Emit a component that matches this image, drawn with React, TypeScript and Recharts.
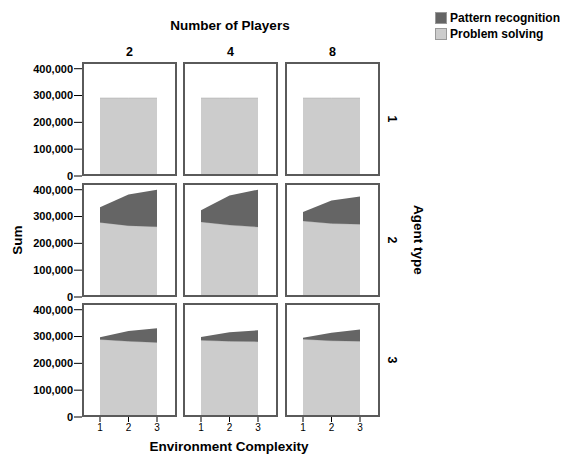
import React from 'react'
import { AreaChart, Area, XAxis, YAxis } from 'recharts'

const envLevels = [1, 2, 3]
const playerCounts = ['2', '4', '8']
const agentTypes = ['1', '2', '3']
const yTicks = [0, 100000, 200000, 300000, 400000]

// rows = agent type, columns = number of players, values at env complexity 1..3
const problemSolving = [
  [[290000, 290000, 290000], [290000, 290000, 290000], [290000, 290000, 290000]],
  [[278000, 266000, 262000], [280000, 268000, 261000], [283000, 274000, 271000]],
  [[289000, 282000, 278000], [286000, 282000, 281000], [290000, 284000, 282000]],
]
const patternRecognition = [
  [[0, 0, 0], [0, 0, 0], [0, 0, 0]],
  [[57000, 116000, 138000], [43000, 110000, 139000], [34000, 86000, 104000]],
  [[8000, 39000, 53000], [12000, 34000, 42000], [5000, 30000, 44000]],
]

const DARK = '#656565'
const LIGHT = '#cccccc'
const font = '"Liberation Sans", Arial, sans-serif'

const colX = [82, 183, 285]
const rowY = [62, 183, 303]
const W = 95
const H = 114
const YW = 82
const XH = 24

const fmt = (v: number) => v.toLocaleString('en-US')

function Panel({ r, c }: { r: number; c: number }) {
  const data = envLevels.map((x, i) => ({
    x,
    ps: problemSolving[r][c][i],
    pr: patternRecognition[r][c][i],
  }))
  const showY = c === 0
  const showX = r === 2
  return (
    <div style={{ position: 'absolute', left: colX[c] - (showY ? YW : 0), top: rowY[r] }}>
      <AreaChart
        width={W + (showY ? YW : 0)}
        height={H + (showX ? XH : 0)}
        data={data}
        margin={{ top: 0, right: 0, bottom: 0, left: 0 }}
      >
        <XAxis
          dataKey="x"
          type="number"
          domain={[1, 3]}
          ticks={envLevels}
          interval={0}
          padding={{ left: 18, right: 20 }}
          hide={!showX}
          height={XH}
          axisLine={false}
          tickSize={5}
          tickMargin={2}
          tickLine={{ stroke: '#000' }}
          tick={{ fill: '#000', fontSize: 10, fontFamily: font }}
        />
        <YAxis
          type="number"
          domain={[0, 425000]}
          ticks={yTicks}
          interval={0}
          hide={!showY}
          width={YW}
          axisLine={false}
          tickSize={8}
          tickMargin={1}
          tickFormatter={fmt}
          tickLine={{ stroke: '#000' }}
          tick={{ fill: '#000', fontSize: 11, fontWeight: 'bold', fontFamily: font }}
        />
        <Area
          type="linear"
          dataKey="ps"
          stackId="a"
          fill={LIGHT}
          fillOpacity={1}
          stroke="#b8b8b8"
          isAnimationActive={false}
        />
        <Area
          type="linear"
          dataKey="pr"
          stackId="a"
          fill={DARK}
          fillOpacity={1}
          stroke="none"
          isAnimationActive={false}
        />
      </AreaChart>
      <div
        style={{
          position: 'absolute',
          left: showY ? YW : 0,
          top: 0,
          width: W,
          height: H,
          boxSizing: 'border-box',
          border: '2px solid #5a5a5a',
          pointerEvents: 'none',
        }}
      />
    </div>
  )
}

const bold: React.CSSProperties = {
  position: 'absolute',
  fontFamily: font,
  fontWeight: 'bold',
  color: '#000',
  whiteSpace: 'nowrap',
}

export default function App() {
  return (
    <div style={{ position: 'absolute', left: 0, top: 0, width: 565, height: 454, overflow: 'hidden', background: '#fff' }}>
      <style>{'.recharts-surface{overflow:visible}'}</style>
      <div style={{ ...bold, fontSize: 13.5, left: 230, top: 25, transform: 'translate(-50%, -50%)' }}>Number of Players</div>
      {playerCounts.map((p, c) => (
        <div key={p} style={{ ...bold, fontSize: 12.5, left: colX[c] + W / 2, top: 52, transform: 'translate(-50%, -50%)' }}>
          {p}
        </div>
      ))}
      {agentTypes.map((a, r) => (
        <div
          key={a}
          style={{ ...bold, fontSize: 12.5, left: 392, top: rowY[r] + H / 2, transform: 'translate(-50%, -50%) rotate(90deg)' }}
        >
          {a}
        </div>
      ))}
      <div style={{ ...bold, fontSize: 13.5, left: 418, top: 240, transform: 'translate(-50%, -50%) rotate(90deg)' }}>Agent type</div>
      <div style={{ ...bold, fontSize: 13.5, left: 17, top: 240, transform: 'translate(-50%, -50%) rotate(-90deg)' }}>Sum</div>
      <div style={{ ...bold, fontSize: 13.5, left: 229, top: 446, transform: 'translate(-50%, -50%)' }}>Environment Complexity</div>

      {agentTypes.map((_, r) => playerCounts.map((_, c) => <Panel key={`${r}-${c}`} r={r} c={c} />))}

      {[
        { name: 'Pattern recognition', color: DARK },
        { name: 'Problem solving', color: LIGHT },
      ].map((s, i) => (
        <div key={s.name} style={{ ...bold, fontSize: 12, left: 435, top: 11 + i * 16, display: 'flex', alignItems: 'center' }}>
          <span style={{ display: 'inline-block', width: 12, height: 12, background: s.color, border: '1px solid #999', boxSizing: 'border-box', marginRight: 3 }} />
          {s.name}
        </div>
      ))}
    </div>
  )
}
